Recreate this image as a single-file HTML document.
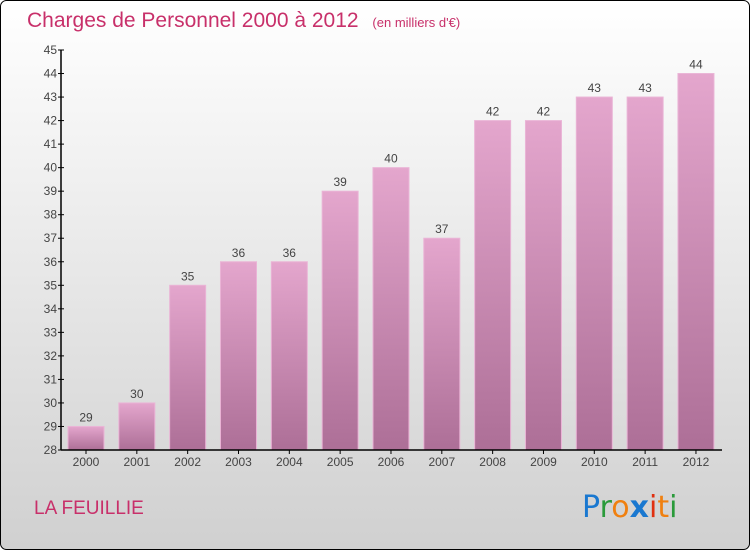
<!DOCTYPE html>
<html><head><meta charset="utf-8"><style>
html,body{margin:0;padding:0;width:750px;height:550px;overflow:hidden;background:#fff}
svg{display:block;font-family:"Liberation Sans",sans-serif}
</style></head><body>
<svg id="chart" width="750" height="550" viewBox="0 0 750 550">
<defs>
<linearGradient id="bg" x1="0" y1="0" x2="0" y2="1"><stop offset="0" stop-color="#ffffff"/><stop offset="1" stop-color="#d0d0d0"/></linearGradient>
<linearGradient id="bar" x1="0" y1="0" x2="0" y2="1"><stop offset="0" stop-color="#e4a6cd"/><stop offset="1" stop-color="#ad6f97"/></linearGradient>
</defs>
<rect x="0.5" y="0.5" width="749" height="549" rx="6" fill="url(#bg)" stroke="#000"/>
<text x="27" y="27" font-size="21" fill="#c8306a">Charges de Personnel 2000 à 2012 <tspan font-size="13" dx="8">(en milliers d'€)</tspan></text>
<g id="ticks"></g>
<g id="bars"></g>
<line x1="61" y1="50" x2="61" y2="450" stroke="#000" stroke-width="1.5"/>
<line x1="61" y1="450" x2="722" y2="450" stroke="#000" stroke-width="1.5"/>
<text x="34" y="514" font-size="19" fill="#c8306a">LA FEUILLIE</text>
<g font-size="30" font-family="'DejaVu Sans',sans-serif">
<text x="582" y="517"><tspan fill="#1a78d0">P</tspan><tspan fill="#2a9a3a">r</tspan><tspan fill="#f08010">o</tspan><tspan fill="#1a78d0" font-weight="bold">x</tspan><tspan fill="#e03010">i</tspan><tspan fill="#f08010">t</tspan><tspan fill="#2a9a3a">i</tspan></text>
</g>
</svg>
<script>
const categories=["2000","2001","2002","2003","2004","2005","2006","2007","2008","2009","2010","2011","2012"];
const values=[29,30,35,36,36,39,40,37,42,42,43,43,44];
const yTicks=[28,29,30,31,32,33,34,35,36,37,38,39,40,41,42,43,44,45];
const NS="http://www.w3.org/2000/svg";
const yMin=28,yMax=45,plotTop=50,plotBot=450;
function yScale(v){return plotBot-(v-yMin)/(yMax-yMin)*(plotBot-plotTop);}
function xScale(i){return 86+i*50.83;}
const tg=document.getElementById('ticks'),bg=document.getElementById('bars');
function mk(tag,attrs,parent){const e=document.createElementNS(NS,tag);for(const k in attrs)e.setAttribute(k,attrs[k]);parent.appendChild(e);return e;}
yTicks.forEach(t=>{
  const l=mk('line',{x1:58,x2:64,y1:yScale(t),y2:yScale(t),stroke:'#000'},tg);
  
  
  const tx=mk('text',{x:57,y:yScale(t)+4,'font-size':12,fill:'#444','text-anchor':'end'},tg);
  tx.textContent=t;
  
  
});
categories.forEach((c,i)=>{
  const r=mk('rect',{x:xScale(i)-18,y:yScale(values[i]),width:36,height:plotBot-yScale(values[i]),fill:'url(#bar)',stroke:'#eab4d6','stroke-width':1},bg);
  
  
  const v=mk('text',{x:xScale(i),y:yScale(values[i])-5,'font-size':12,fill:'#444','text-anchor':'middle'},bg);
  v.textContent=values[i];
  
  
  const xl=mk('text',{x:xScale(i),y:466,'font-size':12,fill:'#444','text-anchor':'middle'},bg);
  xl.textContent=c;
  
  
  const tk=mk('line',{x1:xScale(i),x2:xScale(i),y1:450,y2:454,stroke:'#000'},bg);
  
  
});
</script>
</body></html>
